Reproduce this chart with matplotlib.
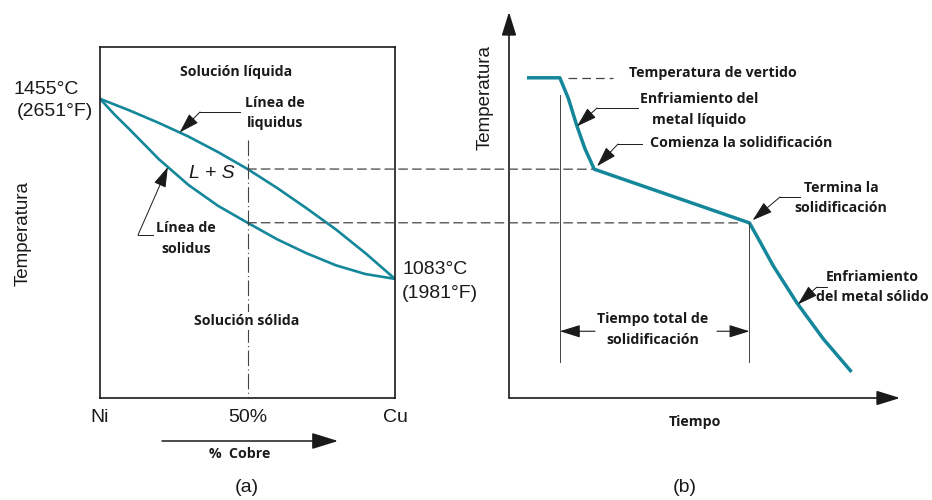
import numpy as np
import matplotlib.pyplot as plt
from matplotlib.patches import ConnectionPatch, ArrowStyle

# === Data ===
# (a) Ni-Cu phase diagram: % copper vs temperature (deg C)
cu_pct = [0, 5, 10, 20, 30, 40, 50, 60, 70, 80, 90, 100]
liquidus_C = [1455, 1443, 1431, 1405, 1377, 1345, 1310, 1271, 1229, 1185, 1136, 1083]
solidus_C = [1455, 1422, 1392, 1330, 1277, 1234, 1199, 1165, 1136, 1111, 1093, 1083]
comp_ticks = [0, 50, 100]
comp_labels = ["Ni", "50%", "Cu"]

# (b) cooling curve of the 50% alloy: time (arbitrary units) vs temperature
time_u = [4.6, 13.0, 15.2, 17.3, 19.4, 21.8, 61.5, 64.2, 67.6, 73.6, 80.4, 87.6]
cool_C = [1499, 1499, 1456, 1401, 1353, 1310, 1199, 1160, 1110, 1034, 959, 891]
I_START, I_END = 5, 6  # solidification starts / ends

TEAL = "#14879a"
INK = "#1a1a1a"
GUIDE = "#444444"
ANN = dict(family="Open Sans", fontweight="bold", fontsize=10.2, color=INK)
NUM = dict(family="Liberation Sans", fontsize=14, color=INK)
HEAD = ArrowStyle("-|>", head_length=0.9, head_width=0.28)

W, H = 932, 500
fig = plt.figure(figsize=(W / 100, H / 100), dpi=100)


def box(x0, y0, x1, y1):
    # pixel box (top-left origin) -> figure fraction rect
    return [x0 / W, 1 - y1 / H, (x1 - x0) / W, (y1 - y0) / H]


# === Panel (a) ===
ax_a = fig.add_axes(box(100, 47, 395, 398))
ax_a.set_xlim(0, 100)
ax_a.set_ylim(837, 1562)
ax_a.plot(cu_pct, liquidus_C, color=TEAL, lw=1.9, solid_capstyle="round", solid_joinstyle="round")
ax_a.plot(cu_pct, solidus_C, color=TEAL, lw=1.9, solid_capstyle="round", solid_joinstyle="round")
ax_a.plot([50, 50], [1370, 837], color=GUIDE, lw=0.8, linestyle=(0, (14, 3, 1, 3)))
ax_a.set_xticks(comp_ticks, comp_labels, **NUM)
ax_a.set_yticks([])
ax_a.tick_params(axis="x", length=0, pad=8)
for s in ax_a.spines.values():
    s.set_linewidth(1.2)
    s.set_color(INK)

# === Panel (b) ===
ax_b = fig.add_axes(box(509, 12, 900, 398))
ax_b.set_xlim(0, 100)
ax_b.set_ylim(837, 1635)
ax_b.axis("off")
ax_b.plot(time_u, cool_C, color=TEAL, lw=2.5, solid_joinstyle="round", solid_capstyle="butt")
for tip in [(0, 1), (1, 0)]:
    ax_b.annotate("", xy=tip, xycoords="axes fraction", xytext=(0, 0),
                  arrowprops=dict(arrowstyle=HEAD, color=INK, lw=1.2, mutation_scale=16,
                                  shrinkA=0, shrinkB=0))
# pour temperature dashes
ax_b.plot([15.1, 26.6], [cool_C[0]] * 2, color=GUIDE, lw=0.9, linestyle=(0, (7, 4)))
# guide lines for total solidification time
ax_b.plot([time_u[1]] * 2, [1463, 911], color=GUIDE, lw=0.7)
ax_b.plot([time_u[I_END]] * 2, [cool_C[I_END], 911], color=GUIDE, lw=0.7)
for x_from, x_to in [(22.0, time_u[1]), (53.2, time_u[I_END])]:
    ax_b.annotate("", xy=(x_to, 975), xytext=(x_from, 975),
                  arrowprops=dict(arrowstyle=HEAD, color=INK, lw=0.8, mutation_scale=14,
                                  shrinkA=0, shrinkB=0))

# dashed lines joining the 50% alloy to its cooling curve
for T_a, t_b in [(liquidus_C[6], time_u[I_START] - 0.5), (solidus_C[6], time_u[I_END] - 3)]:
    con = ConnectionPatch(xyA=(50, T_a), coordsA=ax_a.transData,
                          xyB=(t_b, T_a), coordsB=ax_b.transData,
                          color=GUIDE, lw=0.9, linestyle=(0, (7, 4)))
    fig.add_artist(con)

# === Overlay in pixel units for labels ===
ov = fig.add_axes([0, 0, 1, 1], zorder=5)
ov.set_xlim(0, W)
ov.set_ylim(H, 0)
ov.axis("off")


def leader(text_pt, elbow, tip, tip_coords, shrink=0):
    ov.plot([text_pt[0], elbow[0]], [text_pt[1], elbow[1]], color=INK, lw=0.7)
    ov.annotate("", xy=tip, xycoords=tip_coords, xytext=elbow, textcoords="data",
                arrowprops=dict(arrowstyle=HEAD, color=INK, lw=0.7, mutation_scale=14,
                                shrinkA=0, shrinkB=shrink))


# panel (a) text
ov.text(23, 233, "Temperatura", rotation=90, ha="center", va="center",
        family="Liberation Sans", fontsize=13.5, color=INK)
ov.text(79, 89, "1455°C", ha="right", va="center", **NUM)
ov.text(93, 112, "(2651°F)", ha="right", va="center", **NUM)
ov.text(402, 270, "1083°C", ha="left", va="center", **NUM)
ov.text(402, 293, "(1981°F)", ha="left", va="center", **NUM)
ov.text(236, 72, "Solución líquida", ha="center", va="center", **ANN)
ov.text(275, 103, "Línea de", ha="center", va="center", **ANN)
ov.text(275, 123, "liquidus", ha="center", va="center", **ANN)
leader((240, 112), (200, 112), (27, np.interp(27, cu_pct, liquidus_C)), ax_a.transData)
ov.text(212, 173, "L + S", ha="center", va="center", family="Liberation Sans",
        style="italic", fontsize=14, color=INK)
ov.text(186, 228, "Línea de", ha="center", va="center", **ANN)
ov.text(186, 249, "solidus", ha="center", va="center", **ANN)
leader((153, 235), (138, 235), (23, np.interp(23, cu_pct, solidus_C)), ax_a.transData)
ov.text(247, 321, "Solución sólida", ha="center", va="center",
        bbox=dict(facecolor="white", edgecolor="none", pad=1.5), **ANN)
ov.annotate("", xy=(338, 441), xytext=(162, 441),
            arrowprops=dict(arrowstyle=HEAD, color=INK, lw=1.1, mutation_scale=18,
                            shrinkA=0, shrinkB=0))
ov.text(240, 454, "%  Cobre", ha="center", va="center", **ANN)
ov.text(247, 488, "(a)", ha="center", va="center", **NUM)

# panel (b) text
ov.text(485, 98, "Temperatura", rotation=90, ha="center", va="center",
        family="Liberation Sans", fontsize=13.5, color=INK)
ov.text(629, 73, "Temperatura de vertido", ha="left", va="center", **ANN)
ov.text(699, 99, "Enfriamiento del", ha="center", va="center", **ANN)
ov.text(699, 120, "metal líquido", ha="center", va="center", **ANN)
leader((638, 108), (597, 108), (17.4, np.interp(17.4, time_u, cool_C)), ax_b.transData)
ov.text(650, 143, "Comienza la solidificación", ha="left", va="center", **ANN)
leader((642, 144), (618, 144), (time_u[I_START], cool_C[I_START]), ax_b.transData, shrink=3)
ov.text(841, 188, "Termina la", ha="center", va="center", **ANN)
ov.text(841, 208, "solidificación", ha="center", va="center", **ANN)
leader((800, 197), (780, 197), (time_u[I_END], cool_C[I_END]), ax_b.transData, shrink=3)
ov.text(872, 277, "Enfriamiento", ha="center", va="center", **ANN)
ov.text(872, 297, "del metal sólido", ha="center", va="center", **ANN)
leader((827, 287), (817, 287), (73.9, np.interp(73.9, time_u, cool_C)), ax_b.transData)
ov.text(653, 319, "Tiempo total de", ha="center", va="center", **ANN)
ov.text(653, 340, "solidificación", ha="center", va="center", **ANN)
ov.text(695, 422, "Tiempo", ha="center", va="center", **ANN)
ov.text(685, 488, "(b)", ha="center", va="center", **NUM)

fig.savefig("out.png", dpi=100, facecolor="white")
